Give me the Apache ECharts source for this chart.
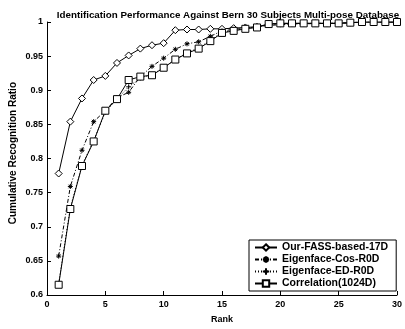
<!DOCTYPE html>
<html><head><meta charset="utf-8">
<script src="https://cdn.jsdelivr.net/npm/echarts@6/dist/echarts.min.js"></script>
<style>html,body{margin:0;padding:0;background:#fff}#c{width:405px;height:329px}</style>
</head><body><div id="c"></div>
<script>
const ranks = [1,2,3,4,5,6,7,8,9,10,11,12,13,14,15,16,17,18,19,20,21,22,23,24,25,26,27,28,29,30];
const seriesNames = ['Our-FASS-based-17D','Eigenface-Cos-R0D','Eigenface-ED-R0D','Correlation(1024D)'];
const fass = [0.778,0.854,0.888,0.915,0.921,0.940,0.951,0.961,0.966,0.969,0.988,0.989,0.989,0.990,0.990,0.991,0.992,0.993,0.997,0.998,0.998,0.998,0.998,0.998,0.998,0.999,1,1,1,1];
const eigCos = [0.657,0.759,0.812,0.854,0.870,0.889,0.897,0.920,0.935,0.947,0.960,0.968,0.971,0.979,0.987,0.989,0.991,0.993,0.995,0.996,0.997,0.997,0.998,0.998,0.998,0.999,1,1,1,1];
const eigED = [0.617,0.728,0.790,0.826,0.868,0.887,0.905,0.918,0.923,0.933,0.945,0.955,0.962,0.973,0.985,0.988,0.990,0.993,0.996,0.997,0.998,0.998,0.998,0.998,0.999,0.999,1,1,1,1];
const corr = [0.615,0.726,0.789,0.825,0.870,0.887,0.915,0.920,0.922,0.933,0.945,0.954,0.961,0.972,0.984,0.987,0.990,0.992,0.997,0.998,0.998,0.998,0.998,0.998,0.998,0.999,1,1,1,1];
const xLabel = 'Rank';
const yLabel = 'Cumulative Recognition Ratio';
const titleText = 'Identification Performance Against Bern 30 Subjects Multi-pose Database';

const pair = arr => ranks.map((r,i)=>[r,arr[i]]);
const F = 'Liberation Sans, Arial, sans-serif';
const starPath = 'path://M5,0L5,10M0,5L10,5M1.5,1.5L8.5,8.5M8.5,1.5L1.5,8.5';
const plusPath = 'path://M5,0L5,10M0,5L10,5';
function ser(name, data, symbol, size, type){
  return {name, type:'line', data:pair(data), symbol, symbolSize:size, showSymbol:true,
    lineStyle:{color:'#000', width:1, type}, itemStyle:{color:'#fff', borderColor:'#000', borderWidth:1},
    emphasis:{disabled:true}, animation:false};
}
const chart = echarts.init(document.getElementById('c'));
chart.setOption({
  backgroundColor:'#fff',
  title:{text:titleText, left:223, textAlign:'center', top:5,
    textStyle:{fontFamily:F, fontSize:9.8, fontWeight:'bold', color:'#000'}},
  graphic:[{type:'text', left:8, top:82, rotation:Math.PI/2, style:{text:yLabel, font:'bold 10px '+F, fill:'#000'}}],
  grid:{left:47, right:4, top:22, bottom:30},
  xAxis:{type:'value', min:0, max:30, interval:5, name:xLabel, nameLocation:'middle', nameGap:20,
    nameTextStyle:{fontFamily:F, fontSize:9, fontWeight:'bold', color:'#000'},
    axisLine:{lineStyle:{color:'#000', width:1}}, axisTick:{inside:true, length:4, lineStyle:{color:'#000'}},
    axisLabel:{fontFamily:F, fontSize:9, fontWeight:'bold', color:'#000', margin:5}, splitLine:{show:false}},
  yAxis:{type:'value', min:0.6, max:1, interval:0.05,
    axisLine:{show:true, lineStyle:{color:'#000', width:1}}, axisTick:{show:true, inside:true, length:4, lineStyle:{color:'#000'}},
    axisLabel:{fontFamily:F, fontSize:9, fontWeight:'bold', color:'#000', margin:4,
      formatter:v=>String(Math.round(v*100)/100)}, splitLine:{show:false}},
  legend:{orient:'vertical', left:249, top:240, itemGap:1, itemWidth:22, itemHeight:8,
    padding:[2,8,2,5], borderColor:'#000', borderWidth:1, backgroundColor:'#fff',
    textStyle:{fontFamily:F, fontSize:10.5, fontWeight:'bold', color:'#000'},
    data:seriesNames},
  series:[
    ser(seriesNames[0], fass, 'diamond', 7, 'solid'),
    ser(seriesNames[1], eigCos, starPath, 5, [4,2,1,2]),
    ser(seriesNames[2], eigED, plusPath, 5, [1,2]),
    ser(seriesNames[3], corr, 'rect', 7, 'solid')
  ]
});
</script></body></html>
